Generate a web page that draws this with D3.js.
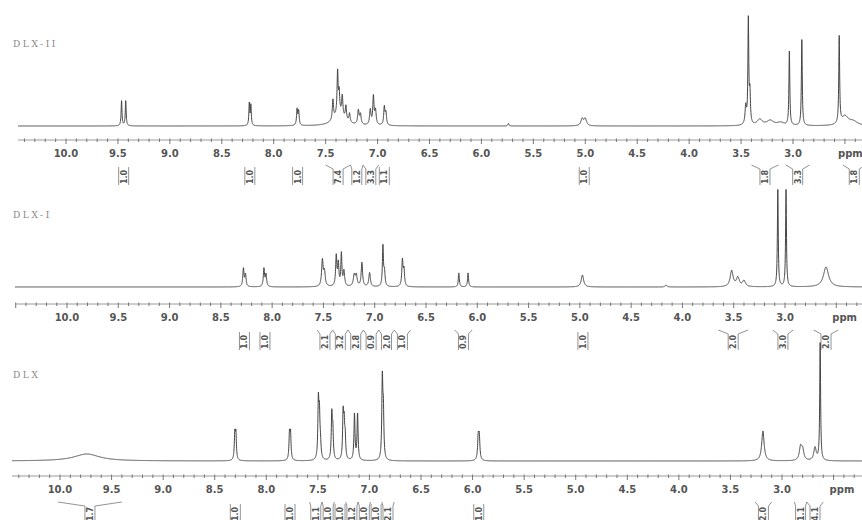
<!DOCTYPE html>
<html>
<head>
<meta charset="utf-8">
<script src="https://cdn.jsdelivr.net/npm/d3@7/dist/d3.min.js"></script>
<style>
  body { margin: 0; background: #fff; }
</style>
</head>
<body>
<div id="chart"></div>
<script>
'use strict';
// peak lists: [ppm, height, half width in ppm]
const dlx2Peaks = [
  [9.465, 25, 0.005], [9.425, 25, 0.005],
  [8.235, 22, 0.005], [8.220, 20, 0.005],
  [7.775, 16, 0.006], [7.760, 14, 0.006],
  [7.37, 12, 0.06],
  [7.43, 20, 0.007], [7.385, 42, 0.006], [7.370, 20, 0.006], [7.34, 20, 0.007], [7.305, 14, 0.007], [7.27, 9, 0.007],
  [7.185, 14, 0.008], [7.165, 10, 0.008],
  [7.07, 15, 0.008], [7.04, 28, 0.007], [7.02, 14, 0.008],
  [6.935, 18, 0.007], [6.92, 12, 0.007],
  [5.74, 2.5, 0.006],
  [5.03, 7, 0.014], [5.0, 7, 0.014],
  [3.455, 18, 0.008], [3.43, 104, 0.005], [3.415, 30, 0.006],
  [3.32, 6, 0.03], [3.22, 5, 0.04], [3.12, 3, 0.04],
  [3.035, 74, 0.005],
  [2.915, 86, 0.005],
  [2.555, 87, 0.005], [2.5, 9, 0.04], [2.42, 4, 0.05]
];
const dlx1Peaks = [
  [8.28, 18, 0.007], [8.26, 12, 0.007],
  [8.08, 18, 0.007], [8.06, 12, 0.007],
  [7.51, 26, 0.009], [7.49, 14, 0.009],
  [7.375, 30, 0.007], [7.355, 22, 0.007], [7.325, 32, 0.006], [7.30, 15, 0.008],
  [7.2, 11, 0.01], [7.18, 11, 0.01],
  [7.125, 24, 0.008],
  [7.05, 14, 0.009],
  [6.92, 40, 0.006], [6.905, 14, 0.007],
  [6.73, 26, 0.007], [6.715, 16, 0.007],
  [6.18, 14, 0.006], [6.09, 14, 0.006],
  [4.975, 12, 0.014],
  [4.16, 2, 0.01],
  [3.52, 16, 0.017], [3.46, 9, 0.017], [3.4, 6, 0.017],
  [3.07, 97, 0.005], [2.99, 97, 0.005],
  [2.6, 20, 0.03]
];
const dlxPeaks = [
  [9.74, 7, 0.15],
  [8.305, 25, 0.006], [8.295, 25, 0.006],
  [7.775, 25, 0.006], [7.765, 25, 0.006],
  [7.495, 56, 0.006], [7.485, 40, 0.006], [7.475, 14, 0.007],
  [7.365, 44, 0.006], [7.355, 28, 0.006],
  [7.255, 44, 0.006], [7.245, 32, 0.006], [7.235, 20, 0.006],
  [7.145, 46, 0.006], [7.115, 46, 0.006],
  [6.875, 78, 0.006], [6.865, 44, 0.006],
  [5.945, 22, 0.007], [5.935, 22, 0.007],
  [3.185, 30, 0.014],
  [2.82, 13, 0.014], [2.8, 10, 0.014],
  [2.68, 13, 0.014], [2.63, 118, 0.005]
];

// integrals: [from ppm, to ppm, value]
const dlx2Integrals = [
  [9.50, 9.39, "1.0"], [8.27, 8.19, "1.0"], [7.80, 7.74, "1.0"],
  [7.50, 7.26, "7.4"], [7.26, 7.14, "1.2"], [7.14, 6.99, "3.3"], [6.99, 6.88, "1.1"],
  [5.06, 4.96, "1.0"], [3.40, 3.14, "1.8"], [3.07, 2.84, "3.3"], [2.52, 2.30, "1.8"]
];
const dlx1Integrals = [
  [8.31, 8.23, "1.0"], [8.11, 8.03, "1.0"],
  [7.56, 7.41, "2.1"], [7.41, 7.26, "3.2"], [7.26, 7.11, "2.8"], [7.11, 6.96, "0.9"], [6.96, 6.81, "2.0"], [6.81, 6.65, "1.0"],
  [6.22, 6.05, "0.9"], [5.02, 4.92, "1.0"], [3.65, 3.36, "2.0"], [3.12, 2.92, "3.0"], [2.72, 2.48, "2.0"]
];
const dlxIntegrals = [
  [10.02, 9.40, "1.7"], [8.35, 8.25, "1.0"], [7.82, 7.72, "1.0"],
  [7.58, 7.46, "1.1"], [7.46, 7.34, "1.0"], [7.34, 7.23, "1.0"], [7.23, 7.11, "1.2"], [7.11, 6.99, "1.0"], [6.99, 6.88, "1.0"], [6.88, 6.76, "2.1"],
  [5.99, 5.89, "1.0"], [3.26, 3.10, "2.0"], [2.88, 2.76, "1.1"], [2.76, 2.60, "4.1"]
];

const panelNames = ["DLX-II", "DLX-I", "DLX"];
const majorTicks = [10.0, 9.5, 9.0, 8.5, 8.0, 7.5, 7.0, 6.5, 6.0, 5.5, 5.0, 4.5, 4.0, 3.5, 3.0];

const width = 862, height = 520;
const panels = [
  { name: panelNames[0], peaks: dlx2Peaks, integrals: dlx2Integrals, base: 126, axisY: 140, x10: 66, x3: 793, left: 18, nameY: 47, intY: 165 },
  { name: panelNames[1], peaks: dlx1Peaks, integrals: dlx1Integrals, base: 287, axisY: 304, x10: 67, x3: 785, left: 15, nameY: 218, intY: 330 },
  { name: panelNames[2], peaks: dlxPeaks, integrals: dlxIntegrals, base: 461, axisY: 476, x10: 60, x3: 782, left: 12, nameY: 378, intY: 502 }
];

let svg = d3.select("#chart").append("svg")
  .attr("width", width)
  .attr("height", height)
  .style("font-family", "'DejaVu Sans', sans-serif");

panels.forEach(function (p) {
  let x = d3.scaleLinear().domain([10, 3]).range([p.x10, p.x3]);
  let y = d3.scaleLinear().domain([0, 100]).range([p.base, p.base - 100]);
  let g = svg.append("g");

  // sum of lorentzian lines
  let hi = x.invert(p.left), lo = x.invert(width);
  let pts = [];
  for (let ppm = hi; ppm >= lo; ppm -= 0.001) {
    let v = 0;
    p.peaks.forEach(function (pk) {
      let dx = ppm - pk[0];
      v += pk[1] * pk[2] * pk[2] / (dx * dx + pk[2] * pk[2]);
    });
    pts.push([ppm, v]);
  }
  let line = d3.line()
    .x(function (d) { return x(d[0]); })
    .y(function (d) { return y(d[1]); });
  g.append("path")
    .datum(pts)
    .attr("d", line)
    .attr("fill", "none")
    .attr("stroke", "#444")
    .attr("stroke-width", 1);

  // axis
  g.append("line")
    .attr("x1", p.left).attr("x2", width)
    .attr("y1", p.axisY).attr("y2", p.axisY)
    .attr("stroke", "#9a9a9a").attr("stroke-width", 1);
  let minor = d3.range(Math.ceil(lo * 10), Math.floor(hi * 10) + 1).map(function (v) { return v / 10; });
  g.selectAll(".tk").data(minor).enter().append("line")
    .attr("x1", function (d) { return x(d); })
    .attr("x2", function (d) { return x(d); })
    .attr("y1", p.axisY - 1.5)
    .attr("y2", function (d) { return Math.abs(d * 2 - Math.round(d * 2)) < 1e-6 ? p.axisY + 4 : p.axisY + 2; })
    .attr("stroke", "#777").attr("stroke-width", 1);
  g.selectAll(".lab").data(majorTicks).enter().append("text")
    .attr("x", function (d) { return x(d); })
    .attr("y", p.axisY + 17)
    .attr("text-anchor", "middle")
    .attr("font-size", "10px")
    .attr("font-weight", "bold")
    .attr("fill", "#555")
    .text(d3.format(".1f"));
  g.append("text")
    .attr("x", Math.min(x(2.5) - 4, width - 24))
    .attr("y", p.axisY + 17)
    .attr("font-size", "10px")
    .attr("font-weight", "bold")
    .attr("fill", "#555")
    .text("ppm");

  // panel name
  g.append("text")
    .attr("x", 13)
    .attr("y", p.nameY)
    .attr("font-family", "'DejaVu Serif', serif")
    .attr("font-size", "9px")
    .attr("letter-spacing", "2.6px")
    .attr("fill", "#888")
    .text(p.name);

  // integrals
  p.integrals.forEach(function (it) {
    let x1 = x(it[0]), x2 = x(it[1]);
    let cx = (x1 + x2) / 2;
    let top = p.intY, bot = p.intY + 20;
    let path = d3.path();
    if (x1 < cx - 6) { path.moveTo(x1, top); path.lineTo(cx - 5, top + 4); }
    else path.moveTo(cx - 5, top + 2);
    path.lineTo(cx - 5, bot);
    if (x2 > cx + 6) { path.moveTo(x2, top); path.lineTo(cx + 5, top + 4); }
    else path.moveTo(cx + 5, top + 2);
    path.lineTo(cx + 5, bot);
    g.append("path")
      .attr("d", path.toString())
      .attr("fill", "none")
      .attr("stroke", "#777")
      .attr("stroke-width", 0.8);
    g.append("text")
      .attr("transform", "translate(" + (cx + 3) + "," + (top + 12) + ") rotate(-90)")
      .attr("text-anchor", "middle")
      .attr("font-size", "8px")
      .attr("font-weight", "bold")
      .attr("fill", "#555")
      .text(it[2]);
  });
});
</script>
</body>
</html>
